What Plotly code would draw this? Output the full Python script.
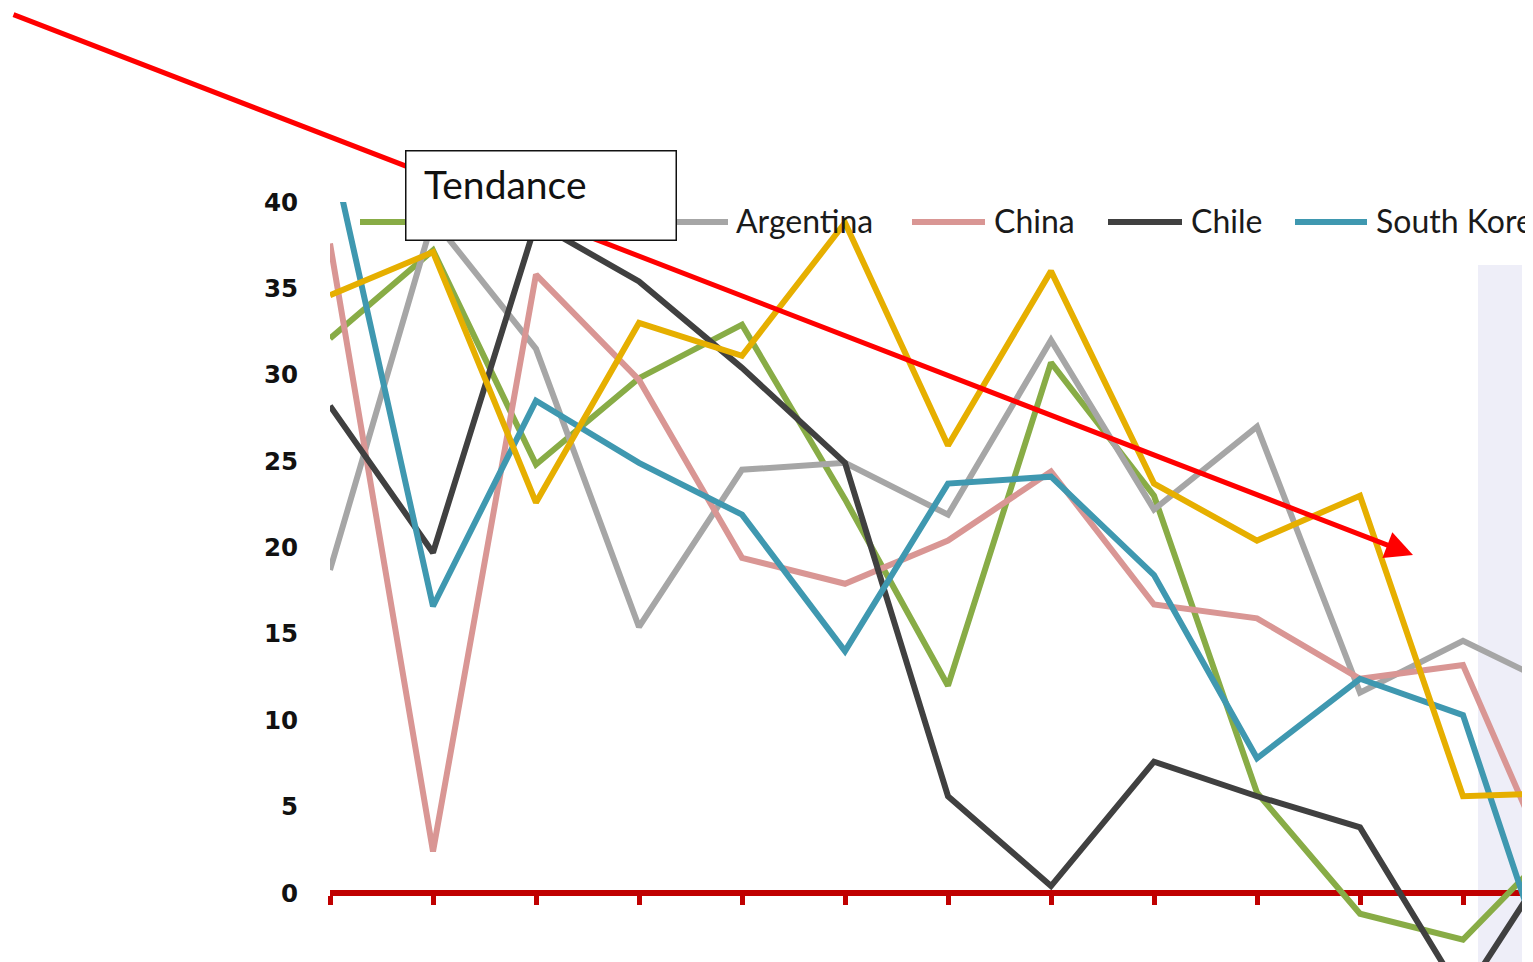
import plotly.graph_objects as go

# ---- data ----
periods = list(range(13))
series_names = ["Brazil", "Argentina", "China", "Chile", "South Korea", "Mexico"]
green_vals = [32.1, 37.2, 24.8, 29.8, 32.9, 22.8, 12.0, 30.7, 23.0, 5.8, -1.2, -2.7, 3.4]
argentina_vals = [18.7, 39.0, 31.5, 15.4, 24.5, 24.9, 21.9, 32.0, 22.2, 27.0, 11.6, 14.6, 11.7]
china_vals = [37.6, 2.4, 35.8, 29.7, 19.4, 17.9, 20.4, 24.4, 16.7, 15.9, 12.4, 13.2, -0.5]
chile_vals = [28.2, 19.7, 38.8, 35.4, 30.4, 24.9, 5.6, 0.4, 7.6, 5.6, 3.8, -6.0, 3.2]
south_korea_vals = [43.4, 16.6, 28.5, 24.9, 21.9, 14.0, 23.7, 24.1, 18.4, 7.8, 12.4, 10.3, -7.6]
yellow_vals = [34.6, 37.1, 22.6, 33.0, 31.1, 38.8, 25.9, 36.0, 23.7, 20.4, 23.0, 5.6, 5.8]
ytick_vals = [0, 5, 10, 15, 20, 25, 30, 35, 40]
xtick_vals = list(range(12))

colors = ["#88AC46", "#A6A6A6", "#D99694", "#404040", "#3F98B0", "#E6AF00"]
all_vals = [green_vals, argentina_vals, china_vals, chile_vals, south_korea_vals, yellow_vals]

W, H = 1533, 962
OFF = 8  # page body margin: figure sits 8px right/down in the window

def px(x):
    return (x - OFF) / W

def py(y):
    return 1 - (y - OFF) / H

# pixel geometry of the plot area in the window
Y0_PIX, Y40_PIX = 893, 202
UNIT = (Y0_PIX - Y40_PIX) / 40.0
y_bottom_val = -((H + OFF) - Y0_PIX) / UNIT

fig = go.Figure()
for name, vals, col in zip(series_names, all_vals, colors):
    fig.add_trace(go.Scatter(x=periods, y=vals, mode="lines", name=name,
                             line=dict(color=col, width=6), showlegend=False))

fig.update_layout(
    width=W, height=H,
    margin=dict(l=0, r=0, t=0, b=0, autoexpand=False),
    paper_bgcolor="white", plot_bgcolor="white",
    xaxis=dict(domain=[px(330), px(1522)], range=[0, 1192 / 103],
               anchor="free", position=py(Y0_PIX), automargin=False,
               showgrid=False, zeroline=False,
               showline=True, linecolor="#C00000", linewidth=6,
               ticks="outside", tickvals=xtick_vals, ticklen=9, tickwidth=5,
               tickcolor="#C00000", showticklabels=False, layer="below traces"),
    yaxis=dict(domain=[0, py(Y40_PIX)], range=[y_bottom_val, 40], automargin=False,
               tickvals=ytick_vals, showgrid=False, zeroline=False, showline=False,
               ticks="outside", ticklen=26, tickcolor="rgba(0,0,0,0)",
               tickfont=dict(family="DejaVu Sans", size=24.5, color="#111111", weight="bold"),
               ),
    showlegend=False,
)

# light lavender panel at the right
fig.add_shape(type="rect", xref="paper", yref="paper",
              x0=px(1478), x1=px(1522), y0=0, y1=py(265),
              fillcolor="#EEEEF8", line=dict(width=0), layer="below")

# manual legend (cropped like the reference)
legend_items = [  # (series index, swatch start, swatch end, text x)
    (0, 360, 432, None),
    (1, 655, 728, 734),
    (2, 912, 985, 992),
    (3, 1108, 1182, 1189),
    (4, 1295, 1367, 1374),
]
for idx, s0, s1, tx in legend_items:
    fig.add_shape(type="line", xref="paper", yref="paper",
                  x0=px(s0), x1=px(s1), y0=py(222), y1=py(222),
                  line=dict(color=colors[idx], width=6), layer="above")
    if tx is not None:
        fig.add_annotation(x=px(tx), y=py(221), xref="paper", yref="paper",
                           text=series_names[idx], showarrow=False,
                           xanchor="left", yanchor="middle",
                           font=dict(family="Lato", size=32, color="#1a1a1a"))

# red trend arrow
fig.add_annotation(x=px(1413), y=py(555), xref="paper", yref="paper",
                   ax=12 - 1413, ay=14 - 555, text="", showarrow=True,
                   arrowcolor="#FF0000", arrowwidth=5, arrowhead=2, arrowsize=1.1,
                   standoff=0)

# "Tendance" box and its text
fig.add_annotation(x=px(404.5), y=py(150), xref="paper", yref="paper",
                   xanchor="left", yanchor="top", text=" ", showarrow=False,
                   width=269, height=88, borderpad=0,
                   bgcolor="white", bordercolor="#111111", borderwidth=1.5,
                   font=dict(family="Lato", size=10, color="#111111"))
fig.add_annotation(x=px(422), y=py(184), xref="paper", yref="paper",
                   xanchor="left", yanchor="middle", text="Tendance", showarrow=False,
                   font=dict(family="Lato", size=39, color="#111111"))

fig.write_html("out.html")
